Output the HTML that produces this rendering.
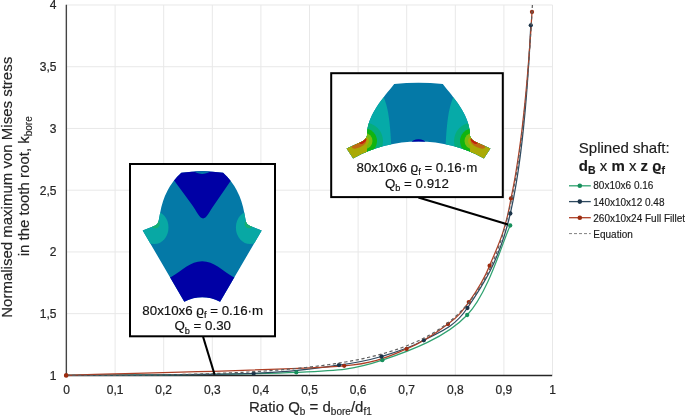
<!DOCTYPE html>
<html><head><meta charset="utf-8"><style>
html,body{margin:0;padding:0;background:#fff;}
svg{display:block;font-family:"Liberation Sans",sans-serif;will-change:transform;}
</style></head><body>
<svg width="685" height="415" viewBox="0 0 685 415">
<rect width="685" height="415" fill="#fff"/>
<g stroke="#e8e8e8" stroke-width="1"><line x1="115.10" y1="5" x2="115.10" y2="375" /><line x1="163.70" y1="5" x2="163.70" y2="375" /><line x1="212.30" y1="5" x2="212.30" y2="375" /><line x1="260.90" y1="5" x2="260.90" y2="375" /><line x1="309.50" y1="5" x2="309.50" y2="375" /><line x1="358.10" y1="5" x2="358.10" y2="375" /><line x1="406.70" y1="5" x2="406.70" y2="375" /><line x1="455.30" y1="5" x2="455.30" y2="375" /><line x1="503.90" y1="5" x2="503.90" y2="375" /><line x1="552.50" y1="5" x2="552.50" y2="375" /><line x1="66" y1="313.66" x2="552.5" y2="313.66" /><line x1="66" y1="251.93" x2="552.5" y2="251.93" /><line x1="66" y1="190.19" x2="552.5" y2="190.19" /><line x1="66" y1="128.46" x2="552.5" y2="128.46" /><line x1="66" y1="66.72" x2="552.5" y2="66.72" /><line x1="66" y1="4.99" x2="552.5" y2="4.99" /></g>
<g font-size="12" fill="#262626" stroke="#262626" stroke-width="0.22"><text x="56.5" y="379.70" text-anchor="end">1</text><text x="56.5" y="317.96" text-anchor="end">1,5</text><text x="56.5" y="256.23" text-anchor="end">2</text><text x="56.5" y="194.50" text-anchor="end">2,5</text><text x="56.5" y="132.76" text-anchor="end">3</text><text x="56.5" y="71.02" text-anchor="end">3,5</text><text x="56.5" y="9.29" text-anchor="end">4</text><text x="66.50" y="393.7" text-anchor="middle">0</text><text x="115.10" y="393.7" text-anchor="middle">0,1</text><text x="163.70" y="393.7" text-anchor="middle">0,2</text><text x="212.30" y="393.7" text-anchor="middle">0,3</text><text x="260.90" y="393.7" text-anchor="middle">0,4</text><text x="309.50" y="393.7" text-anchor="middle">0,5</text><text x="358.10" y="393.7" text-anchor="middle">0,6</text><text x="406.70" y="393.7" text-anchor="middle">0,7</text><text x="455.30" y="393.7" text-anchor="middle">0,8</text><text x="503.90" y="393.7" text-anchor="middle">0,9</text><text x="552.50" y="393.7" text-anchor="middle">1</text></g>
<g font-size="15" fill="#262626" stroke="#262626" stroke-width="0.18">
<text transform="translate(11.6,187.3) rotate(-90)" text-anchor="middle">Normalised maximum von Mises stress</text>
<text transform="translate(29,186.3) rotate(-90)" text-anchor="middle">in the tooth root, k<tspan font-size="10" dy="3">bore</tspan></text>
<text x="249" y="412">Ratio Q<tspan font-size="10" dy="3">b</tspan><tspan dy="-3"> = d</tspan><tspan font-size="10" dy="3">bore</tspan><tspan dy="-3">/d</tspan><tspan font-size="10" dy="3">f1</tspan></text>
</g>
<!-- axes -->
<line x1="66.35" y1="4.8" x2="66.35" y2="376.1" stroke="#444" stroke-width="1.4"/>
<line x1="65.6" y1="375.45" x2="552.2" y2="375.45" stroke="#262626" stroke-width="1.35"/>
<!-- series -->
<g fill="none" stroke-width="1.25">
<path d="M66.20,375.40 C104.55,374.90 243.62,374.93 296.30,372.40 C339.68,370.31 353.82,369.77 382.30,360.20 C410.78,350.63 445.88,337.45 467.20,315.00 C488.52,292.55 503.03,240.42 510.20,225.50" stroke="#2fa270"/>
<path d="M66.20,375.40 C97.43,375.07 208.13,375.12 253.60,373.40 C296.47,371.78 317.68,367.92 339.00,365.10 C360.32,362.28 367.37,360.63 381.50,356.50 C395.63,352.37 409.48,348.38 423.80,340.30 C438.12,332.22 452.98,329.13 467.40,308.00 C481.82,286.87 499.73,260.62 510.30,213.50 L511.37,208.67 L512.39,203.85 L513.36,199.02 L514.28,194.20 L515.16,189.37 L516.00,184.55 L516.80,179.72 L517.56,174.89 L518.29,170.07 L518.99,165.24 L519.65,160.42 L520.29,155.59 L520.91,150.77 L521.49,145.94 L522.06,141.12 L522.60,136.29 L523.12,131.46 L523.62,126.64 L524.10,121.81 L524.56,116.99 L525.01,112.16 L525.44,107.34 L525.85,102.51 L526.25,97.68 L526.63,92.86 L527.00,88.03 L527.36,83.21 L527.70,78.38 L528.03,73.56 L528.35,68.73 L528.66,63.91 L528.96,59.08 L529.25,54.25 L529.53,49.43 L529.80,44.60 L530.06,39.78 L530.32,34.95 L530.56,30.13 L530.80,25.30" stroke="#2e4a60"/>
<path d="M66.20,375.40 C112.53,373.80 287.47,370.20 344.20,365.80 C376.41,363.30 389.30,355.95 406.60,349.00 C423.90,342.05 437.63,331.92 448.00,324.10 C458.37,316.28 461.87,311.83 468.80,302.10 C475.73,292.37 482.57,282.98 489.60,265.70 C496.63,248.42 505.18,233.23 511.00,198.40 L511.99,193.62 L512.93,188.84 L513.83,184.06 L514.70,179.28 L515.53,174.50 L516.33,169.72 L517.10,164.94 L517.84,160.16 L518.55,155.38 L519.23,150.61 L519.89,145.83 L520.53,141.05 L521.14,136.27 L521.74,131.49 L522.31,126.71 L522.86,121.93 L523.40,117.15 L523.92,112.37 L524.43,107.59 L524.91,102.81 L525.39,98.03 L525.85,93.25 L526.29,88.47 L526.73,83.69 L527.15,78.91 L527.56,74.13 L527.95,69.35 L528.34,64.57 L528.72,59.79 L529.08,55.02 L529.44,50.24 L529.79,45.46 L530.13,40.68 L530.46,35.90 L530.78,31.12 L531.10,26.34 L531.41,21.56 L531.71,16.78 L532.00,12.00" stroke="#ad3f25"/>
</g>
<circle cx="296.30" cy="372.40" r="2.15" fill="#17905c"/><circle cx="382.30" cy="360.20" r="2.15" fill="#17905c"/><circle cx="467.20" cy="315.00" r="2.15" fill="#17905c"/><circle cx="510.20" cy="225.50" r="2.15" fill="#17905c"/><circle cx="253.60" cy="373.40" r="2.15" fill="#1b3449"/><circle cx="339.00" cy="365.10" r="2.15" fill="#1b3449"/><circle cx="381.50" cy="356.50" r="2.15" fill="#1b3449"/><circle cx="423.80" cy="340.30" r="2.15" fill="#1b3449"/><circle cx="467.40" cy="308.00" r="2.15" fill="#1b3449"/><circle cx="510.30" cy="213.50" r="2.15" fill="#1b3449"/><circle cx="530.80" cy="25.30" r="2.15" fill="#1b3449"/><circle cx="66.20" cy="375.40" r="2.15" fill="#9c2c10"/><circle cx="344.20" cy="365.80" r="2.15" fill="#9c2c10"/><circle cx="406.60" cy="349.00" r="2.15" fill="#9c2c10"/><circle cx="448.00" cy="324.10" r="2.15" fill="#9c2c10"/><circle cx="468.80" cy="302.10" r="2.15" fill="#9c2c10"/><circle cx="489.60" cy="265.70" r="2.15" fill="#9c2c10"/><circle cx="511.00" cy="198.40" r="2.15" fill="#9c2c10"/><circle cx="532.00" cy="12.00" r="2.15" fill="#9c2c10"/>
<path d="M66.50,375.40 L67.67,375.40 L68.84,375.40 L70.00,375.40 L71.17,375.40 L72.34,375.40 L73.51,375.40 L74.67,375.40 L75.84,375.40 L77.01,375.40 L78.18,375.40 L79.34,375.40 L80.51,375.40 L81.68,375.39 L82.85,375.39 L84.02,375.39 L85.18,375.39 L86.35,375.39 L87.52,375.39 L88.69,375.39 L89.85,375.38 L91.02,375.38 L92.19,375.38 L93.36,375.38 L94.52,375.37 L95.69,375.37 L96.86,375.37 L98.03,375.37 L99.20,375.36 L100.36,375.36 L101.53,375.36 L102.70,375.35 L103.87,375.35 L105.03,375.34 L106.20,375.34 L107.37,375.34 L108.54,375.33 L109.70,375.33 L110.87,375.32 L112.04,375.31 L113.21,375.31 L114.37,375.30 L115.54,375.30 L116.71,375.29 L117.88,375.28 L119.05,375.28 L120.21,375.27 L121.38,375.26 L122.55,375.26 L123.72,375.25 L124.88,375.24 L126.05,375.23 L127.22,375.22 L128.39,375.22 L129.55,375.21 L130.72,375.20 L131.89,375.19 L133.06,375.18 L134.23,375.17 L135.39,375.16 L136.56,375.15 L137.73,375.13 L138.90,375.12 L140.06,375.11 L141.23,375.10 L142.40,375.09 L143.57,375.08 L144.73,375.06 L145.90,375.05 L147.07,375.04 L148.24,375.02 L149.41,375.01 L150.57,374.99 L151.74,374.98 L152.91,374.96 L154.08,374.95 L155.24,374.93 L156.41,374.91 L157.58,374.90 L158.75,374.88 L159.91,374.86 L161.08,374.85 L162.25,374.83 L163.42,374.81 L164.59,374.79 L165.75,374.77 L166.92,374.75 L168.09,374.73 L169.26,374.71 L170.42,374.69 L171.59,374.67 L172.76,374.64 L173.93,374.62 L175.09,374.60 L176.26,374.58 L177.43,374.55 L178.60,374.53 L179.76,374.50 L180.93,374.48 L182.10,374.45 L183.27,374.43 L184.44,374.40 L185.60,374.37 L186.77,374.35 L187.94,374.32 L189.11,374.29 L190.27,374.26 L191.44,374.23 L192.61,374.20 L193.78,374.17 L194.94,374.14 L196.11,374.11 L197.28,374.08 L198.45,374.04 L199.62,374.01 L200.78,373.98 L201.95,373.94 L203.12,373.91 L204.29,373.87 L205.45,373.83 L206.62,373.80 L207.79,373.76 L208.96,373.72 L210.12,373.68 L211.29,373.64 L212.46,373.60 L213.63,373.56 L214.80,373.52 L215.96,373.48 L217.13,373.44 L218.30,373.39 L219.47,373.35 L220.63,373.31 L221.80,373.26 L222.97,373.21 L224.14,373.17 L225.30,373.12 L226.47,373.07 L227.64,373.02 L228.81,372.97 L229.98,372.92 L231.14,372.87 L232.31,372.82 L233.48,372.77 L234.65,372.71 L235.81,372.66 L236.98,372.60 L238.15,372.55 L239.32,372.49 L240.48,372.43 L241.65,372.37 L242.82,372.32 L243.99,372.25 L245.15,372.19 L246.32,372.13 L247.49,372.07 L248.66,372.00 L249.83,371.94 L250.99,371.87 L252.16,371.81 L253.33,371.74 L254.50,371.67 L255.66,371.60 L256.83,371.53 L258.00,371.46 L259.17,371.39 L260.33,371.31 L261.50,371.24 L262.67,371.16 L263.84,371.09 L265.01,371.01 L266.17,370.93 L267.34,370.85 L268.51,370.77 L269.68,370.69 L270.84,370.60 L272.01,370.52 L273.18,370.43 L274.35,370.35 L275.51,370.26 L276.68,370.17 L277.85,370.08 L279.02,369.98 L280.19,369.89 L281.35,369.80 L282.52,369.70 L283.69,369.60 L284.86,369.51 L286.02,369.41 L287.19,369.30 L288.36,369.20 L289.53,369.10 L290.69,368.99 L291.86,368.89 L293.03,368.78 L294.20,368.67 L295.37,368.56 L296.53,368.44 L297.70,368.33 L298.87,368.21 L300.04,368.09 L301.20,367.97 L302.37,367.85 L303.54,367.73 L304.71,367.61 L305.87,367.48 L307.04,367.35 L308.21,367.22 L309.38,367.09 L310.54,366.96 L311.71,366.82 L312.88,366.69 L314.05,366.55 L315.22,366.41 L316.38,366.27 L317.55,366.12 L318.72,365.97 L319.89,365.83 L321.05,365.67 L322.22,365.52 L323.39,365.37 L324.56,365.21 L325.72,365.05 L326.89,364.89 L328.06,364.73 L329.23,364.56 L330.40,364.39 L331.56,364.22 L332.73,364.05 L333.90,363.87 L335.07,363.69 L336.23,363.51 L337.40,363.33 L338.57,363.15 L339.74,362.96 L340.90,362.77 L342.07,362.57 L343.24,362.38 L344.41,362.18 L345.58,361.98 L346.74,361.77 L347.91,361.56 L349.08,361.35 L350.25,361.14 L351.41,360.92 L352.58,360.70 L353.75,360.48 L354.92,360.25 L356.08,360.02 L357.25,359.79 L358.42,359.55 L359.59,359.31 L360.76,359.07 L361.92,358.82 L363.09,358.57 L364.26,358.31 L365.43,358.06 L366.59,357.79 L367.76,357.53 L368.93,357.26 L370.10,356.98 L371.26,356.70 L372.43,356.42 L373.60,356.13 L374.77,355.84 L375.93,355.55 L377.10,355.25 L378.27,354.94 L379.44,354.63 L380.61,354.32 L381.77,354.00 L382.94,353.67 L384.11,353.34 L385.28,353.01 L386.44,352.67 L387.61,352.32 L388.78,351.97 L389.95,351.61 L391.11,351.25 L392.28,350.88 L393.45,350.50 L394.62,350.12 L395.79,349.74 L396.95,349.34 L398.12,348.94 L399.29,348.53 L400.46,348.12 L401.62,347.70 L402.79,347.27 L403.96,346.84 L405.13,346.39 L406.29,345.94 L407.46,345.48 L408.63,345.02 L409.80,344.54 L410.97,344.06 L412.13,343.57 L413.30,343.07 L414.47,342.56 L415.64,342.04 L416.80,341.51 L417.97,340.97 L419.14,340.42 L420.31,339.86 L421.47,339.30 L422.64,338.72 L423.81,338.13 L424.98,337.52 L426.15,336.91 L427.31,336.29 L428.48,335.65 L429.65,335.00 L430.82,334.33 L431.98,333.66 L433.15,332.97 L434.32,332.26 L435.49,331.55 L436.65,330.81 L437.82,330.06 L438.99,329.30 L440.16,328.52 L441.32,327.72 L442.49,326.91 L443.66,326.08 L444.83,325.23 L446.00,324.36 L447.16,323.47 L448.33,322.56 L449.50,321.63 L450.67,320.68 L451.83,319.71 L453.00,318.71 L454.17,317.69 L455.34,316.65 L456.50,315.58 L457.67,314.49 L458.84,313.36 L460.01,312.21 L461.18,311.03 L462.34,309.83 L463.51,308.58 L464.68,307.31 L465.85,306.00 L467.01,304.66 L468.18,303.28 L469.35,301.87 L470.52,300.41 L471.68,298.92 L472.85,297.38 L474.02,295.79 L475.19,294.16 L476.36,292.48 L477.52,290.75 L478.69,288.97 L479.86,287.13 L481.03,285.23 L482.19,283.27 L483.36,281.25 L484.53,279.16 L485.70,277.00 L486.86,274.77 L488.03,272.46 L489.20,270.07 L490.37,267.59 L491.54,265.02 L492.70,262.35 L493.87,259.58 L495.04,256.71 L496.21,253.72 L497.37,250.61 L498.54,247.37 L499.71,243.99 L500.88,240.47 L502.04,236.80 L503.21,232.96 L504.38,228.94 L505.55,224.73 L506.71,220.32 L507.88,215.69 L509.05,210.82 L510.22,205.70 L511.39,200.30 L512.55,194.60 L513.72,188.58 L514.89,182.21 L516.06,175.45 L517.22,168.27 L518.39,160.62 L519.56,152.46 L520.73,143.74 L521.89,134.39 L523.06,124.34 L524.23,113.51 L525.40,101.80 L526.57,89.10 L527.73,75.27 L528.90,60.15 L530.07,43.55 L531.24,25.24 L532.40,4.93" fill="none" stroke="#5e5e5e" stroke-width="1.2" stroke-dasharray="3.2,2.6"/>
<circle cx="66.2" cy="375.4" r="2.2" fill="#9c2c10"/>
<!-- left inset -->
<line x1="203.1" y1="336.9" x2="214.6" y2="374.6" stroke="#000" stroke-width="2"/>
<rect x="130" y="164" width="145" height="172.3" fill="#fff" stroke="#000" stroke-width="2"/>
<defs><clipPath id="cl"><path d="M181.29999999999998,172.7 Q202.2,169.7 223.1,172.7 Q240.0,188 244.29999999999998,213 L245.5,219.5 Q246.2,225 250.89999999999998,226.2 L261.7,230.5 L220.1,301.7 Q202.2,292.9 184.29999999999998,301.7 L142.7,230.5 L153.5,226.2 Q158.2,225 158.89999999999998,219.5 L160.1,213 Q164.39999999999998,188 181.29999999999998,172.7 Z"/></clipPath></defs>
<g clip-path="url(#cl)">
<rect x="135" y="165" width="135" height="140" fill="#0479a7"/>
<path d="M160,160 L165,168 L191.6,204.3 C197,211.5 199.2,218.4 203.1,218.4 C207,218.4 209.2,211.5 214.6,204.3 L239.5,168 L245,160 Z" fill="#0000a5"/>
<ellipse cx="202.2" cy="170.3" rx="8" ry="3.6" fill="#0479a7"/>
<path d="M140,277.2 L170.7,277.2 C183.2,270 190.2,261.3 202.2,261.3 C214.2,261.3 221.2,270 233.7,277.2 L265,277.2 L265,310 L140,310 Z" fill="#0000a5"/>
<ellipse cx="250.2" cy="227.5" rx="14.3" ry="16.5" fill="#08a8a4"/>
<ellipse cx="154.2" cy="227.5" rx="14.3" ry="16.5" fill="#08a8a4"/>
<circle cx="249.0" cy="223.8" r="4.4" fill="#16b070"/>
<circle cx="155.39999999999998" cy="223.8" r="4.4" fill="#16b070"/>
</g>
<g font-size="13.3" fill="#111" stroke="#111" stroke-width="0.18" text-anchor="middle">
<text x="202.7" y="314.8">80x10x6 &#x3F1;<tspan font-size="9.2" dy="3.3">f</tspan><tspan dy="-3.3"> = 0.16·m</tspan></text>
<text x="202.7" y="330.2">Q<tspan font-size="9.2" dy="3.3">b</tspan><tspan dy="-3.3"> = 0.30</tspan></text>
</g>
<!-- right inset -->
<line x1="418.4" y1="197.4" x2="508" y2="224.5" stroke="#000" stroke-width="2.1"/>
<rect x="331.2" y="73.2" width="171.6" height="123.9" fill="#fff" stroke="#000" stroke-width="2"/>
<defs><clipPath id="cr"><path d="M394.2,83.9 Q418.5,81.5 442.8,83.9 C454.0,98.1 468.0,113.3 469.8,131.3 L470.0,135.5 C470.5,139 473.5,141 477.1,142.6 L490.5,148.4 L483.9,158.4 A135.7,135.7 0 0 0 353.1,158.4 L346.5,148.4 L359.9,142.6 C363.5,141 366.5,139 367.0,135.5 L367.2,131.3 C369.0,113.3 383.0,98.1 394.2,83.9 Z"/></clipPath></defs>
<g clip-path="url(#cr)">
<rect x="340" y="78" width="160" height="85" fill="#0479a7"/>
<path d="M453.3,97.2 C449.5,106 446.7,118 445.5,150 L508.5,165 L508.5,60 L459.0,60 Z" fill="#06aaa8"/>
<circle cx="472.5" cy="141" r="18.5" fill="#06ad7c"/>
<circle cx="472.5" cy="141" r="12.5" fill="#10b410"/>
<circle cx="472.5" cy="141" r="8" fill="#78bc10"/>
<path d="M470.5,136 L508.5,136 L508.5,165 L469.5,165 Z" fill="#aaaa06"/>
<circle cx="472.5" cy="141" r="4.5" fill="#aaaa06"/>
<ellipse cx="478.0" cy="144" rx="8" ry="3.4" fill="#bf6a14" transform="rotate(26 478.0 144)"/>
<ellipse cx="474.0" cy="141" rx="4" ry="2" fill="#c41e0c" transform="rotate(38 474.0 141)"/>
<path d="M383.7,97.2 C387.5,106 390.3,118 391.5,150 L328.5,165 L328.5,60 L378.0,60 Z" fill="#06aaa8"/>
<circle cx="364.5" cy="141" r="18.5" fill="#06ad7c"/>
<circle cx="364.5" cy="141" r="12.5" fill="#10b410"/>
<circle cx="364.5" cy="141" r="8" fill="#78bc10"/>
<path d="M366.5,136 L328.5,136 L328.5,165 L367.5,165 Z" fill="#aaaa06"/>
<circle cx="364.5" cy="141" r="4.5" fill="#aaaa06"/>
<ellipse cx="359.0" cy="144" rx="8" ry="3.4" fill="#bf6a14" transform="rotate(-26 359.0 144)"/>
<ellipse cx="363.0" cy="141" rx="4" ry="2" fill="#c41e0c" transform="rotate(-38 363.0 141)"/>
<ellipse cx="418.5" cy="142.3" rx="6.8" ry="3" fill="#0000a5"/>
</g>
<g font-size="13.3" fill="#111" stroke="#111" stroke-width="0.18" text-anchor="middle">
<text x="416.9" y="171.8">80x10x6 &#x3F1;<tspan font-size="9.2" dy="3.3">f</tspan><tspan dy="-3.3"> = 0.16·m</tspan></text>
<text x="416.9" y="187.7">Q<tspan font-size="9.2" dy="3.3">b</tspan><tspan dy="-3.3"> = 0.912</tspan></text>
</g>
<!-- legend -->
<g fill="#1a1a1a" stroke="#1a1a1a" stroke-width="0.15">
<text x="578.8" y="152.6" font-size="15">Splined shaft:</text>
<text x="578.8" y="170.6" font-size="15" font-weight="bold">d<tspan font-size="10.5" dy="3">B</tspan><tspan dy="-3" font-weight="normal"> x </tspan>m<tspan font-weight="normal"> x </tspan>z &#x3F1;<tspan font-size="10.5" dy="3">f</tspan></text>
<g font-size="10">
<text x="593.3" y="189.1">80x10x6 0.16</text>
<text x="593.3" y="205.5">140x10x12 0.48</text>
<text x="593.3" y="221.5">260x10x24 Full Fillet</text>
<text x="593.3" y="237.5">Equation</text>
</g>
</g>
<g stroke-width="1.3">
<line x1="569" y1="185.8" x2="590.8" y2="185.8" stroke="#2fa270"/>
<line x1="569" y1="201.6" x2="590.8" y2="201.6" stroke="#2e4a60"/>
<line x1="569" y1="217.7" x2="590.8" y2="217.7" stroke="#ad3f25"/>
<line x1="569" y1="233.6" x2="590.8" y2="233.6" stroke="#808080" stroke-width="1" stroke-dasharray="3,2"/>
</g>
<circle cx="579.8" cy="185.8" r="2.3" fill="#17905c"/>
<circle cx="579.8" cy="201.6" r="2.3" fill="#1b3449"/>
<circle cx="579.8" cy="217.7" r="2.3" fill="#9c2c10"/>
</svg>
</body></html>
